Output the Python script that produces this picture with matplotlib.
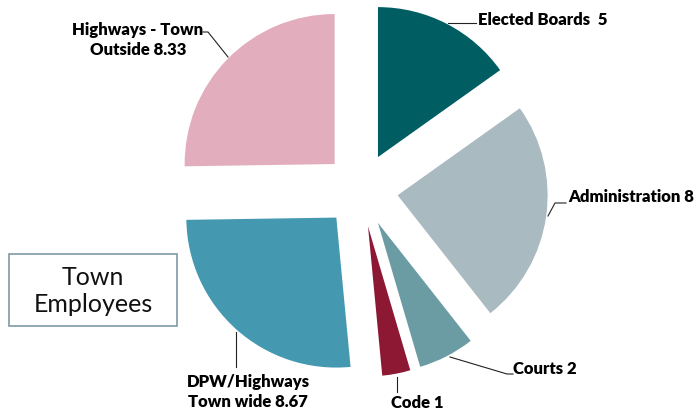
import matplotlib
matplotlib.use("Agg")
import matplotlib.pyplot as plt
from matplotlib.patches import Rectangle

categories = ["Elected Boards", "Administration", "Courts", "Code",
              "DPW/Highways Town wide", "Highways - Town Outside"]
values = [5, 8, 2, 1, 8.67, 8.33]
labels = ["Elected Boards  5", "Administration 8", "Courts 2", "Code 1",
          "DPW/Highways\nTown wide 8.67", "Highways - Town\nOutside 8.33"]
colors = ["#005E63", "#AABAC1", "#6B9BA3", "#8C1833", "#4499B0", "#E2ADBC"]
title = "Town\nEmployees"

W, H = 698, 415
fig = plt.figure(figsize=(W / 100, H / 100), dpi=100)
ax = fig.add_axes([0, 0, 1, 1])

cx, cy = 361, H - 190
R = 150
wedges, _ = ax.pie(values, colors=colors, startangle=90, counterclock=False,
                   center=(cx, cy), radius=R, explode=[37] * len(values),
                   wedgeprops=dict(linewidth=0))
ax.set_xlim(0, W)
ax.set_ylim(0, H)
ax.set_aspect("equal")
ax.axis("off")

fam = ["Lato", "DejaVu Sans"]
fs = 12
fw = "heavy"

def Y(y):
    return H - y

# leader lines (pixel coordinates, y down)
leaders = [
    [(448, 23), (476, 23)],
    [(548, 216), (555, 203), (566, 203)],
    [(450, 357), (507, 374), (513, 374)],
    [(397, 377), (397, 392)],
    [(236, 332), (236, 367)],
    [(228, 57), (208, 32), (203, 32)],
]
for pts in leaders:
    ax.plot([p[0] for p in pts], [Y(p[1]) for p in pts], color="#222222", lw=0.8)

ax.text(478, Y(20), labels[0], ha="left", va="center", fontsize=fs,
        fontweight=fw, family=fam)
ax.text(568, Y(197), labels[1], ha="left", va="center", fontsize=fs,
        fontweight=fw, family=fam)
ax.text(513, Y(369), labels[2], ha="left", va="center", fontsize=fs,
        fontweight=fw, family=fam)
ax.text(417, Y(403), labels[3], ha="center", va="center", fontsize=fs,
        fontweight=fw, family=fam)
ax.text(248, Y(392), labels[4], ha="center", va="center", fontsize=fs,
        fontweight=fw, family=fam, linespacing=1.25)
ax.text(138, Y(40), labels[5], ha="center", va="center", fontsize=fs,
        fontweight=fw, family=fam, linespacing=1.25)

ax.add_patch(Rectangle((9, Y(326)), 168, 72, fill=False, edgecolor="#7F9AA5", lw=1.2))
ax.text(93, Y(291), title, ha="center", va="center", fontsize=18,
        family=fam, color="#111111", linespacing=1.25)

fig.savefig("out.png", dpi=100)
